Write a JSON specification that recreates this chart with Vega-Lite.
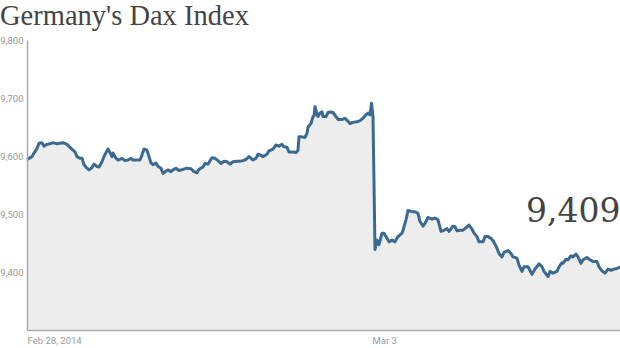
{
  "$schema": "https://vega.github.io/schema/vega-lite/v6.json",
  "width": 593,
  "height": 290,
  "autosize": {"type": "none"},
  "padding": {"left": 27, "top": 40, "right": 0, "bottom": 18},
  "background": "white",
  "config": {"view": {"stroke": null}},
  "title": {
    "text": "Germany's Dax Index",
    "anchor": "start",
    "frame": "group",
    "dx": -27,
    "offset": 5,
    "font": "Liberation Serif",
    "fontSize": 28.5,
    "fontWeight": "normal",
    "color": "#444444"
  },
  "datasets": {
    "dax": [
      {"t": 0, "v": 9594}, {"t": 1, "v": 9595}, {"t": 5, "v": 9599}, {"t": 7, "v": 9605}, {"t": 10, "v": 9613},
      {"t": 12, "v": 9622}, {"t": 15, "v": 9623}, {"t": 17, "v": 9617}, {"t": 20, "v": 9620}, {"t": 23, "v": 9621},
      {"t": 26, "v": 9623}, {"t": 30, "v": 9621}, {"t": 33, "v": 9622}, {"t": 36, "v": 9623}, {"t": 40, "v": 9620},
      {"t": 43, "v": 9615}, {"t": 46, "v": 9610}, {"t": 48, "v": 9607}, {"t": 50, "v": 9599}, {"t": 53, "v": 9596},
      {"t": 55, "v": 9596}, {"t": 57, "v": 9585}, {"t": 60, "v": 9579}, {"t": 62, "v": 9576}, {"t": 65, "v": 9580},
      {"t": 67, "v": 9586}, {"t": 70, "v": 9582}, {"t": 72, "v": 9581}, {"t": 75, "v": 9590}, {"t": 77, "v": 9599},
      {"t": 80, "v": 9609}, {"t": 81, "v": 9612}, {"t": 83, "v": 9606}, {"t": 85, "v": 9599}, {"t": 86, "v": 9605},
      {"t": 89, "v": 9596}, {"t": 91, "v": 9593}, {"t": 95, "v": 9596}, {"t": 98, "v": 9592}, {"t": 101, "v": 9593},
      {"t": 104, "v": 9596}, {"t": 106, "v": 9593}, {"t": 110, "v": 9593}, {"t": 113, "v": 9593}, {"t": 115, "v": 9602},
      {"t": 117, "v": 9612}, {"t": 120, "v": 9610}, {"t": 122, "v": 9599}, {"t": 124, "v": 9588}, {"t": 126, "v": 9585},
      {"t": 129, "v": 9588}, {"t": 131, "v": 9582}, {"t": 134, "v": 9579}, {"t": 136, "v": 9570}, {"t": 139, "v": 9574},
      {"t": 141, "v": 9576}, {"t": 144, "v": 9573}, {"t": 146, "v": 9576}, {"t": 149, "v": 9579}, {"t": 152, "v": 9575},
      {"t": 156, "v": 9577}, {"t": 160, "v": 9579}, {"t": 164, "v": 9578}, {"t": 167, "v": 9573}, {"t": 170, "v": 9571},
      {"t": 172, "v": 9577}, {"t": 176, "v": 9581}, {"t": 178, "v": 9587}, {"t": 181, "v": 9586}, {"t": 185, "v": 9597},
      {"t": 188, "v": 9596}, {"t": 191, "v": 9592}, {"t": 194, "v": 9587}, {"t": 197, "v": 9591}, {"t": 200, "v": 9590},
      {"t": 203, "v": 9586}, {"t": 206, "v": 9590}, {"t": 210, "v": 9591}, {"t": 213, "v": 9591}, {"t": 216, "v": 9592},
      {"t": 219, "v": 9594}, {"t": 222, "v": 9599}, {"t": 226, "v": 9593}, {"t": 229, "v": 9596}, {"t": 231, "v": 9603},
      {"t": 234, "v": 9601}, {"t": 236, "v": 9599}, {"t": 240, "v": 9603}, {"t": 242, "v": 9609}, {"t": 246, "v": 9612},
      {"t": 249, "v": 9619}, {"t": 252, "v": 9617}, {"t": 255, "v": 9620}, {"t": 257, "v": 9616}, {"t": 260, "v": 9615},
      {"t": 262, "v": 9607}, {"t": 266, "v": 9607}, {"t": 269, "v": 9606}, {"t": 271, "v": 9610}, {"t": 272, "v": 9633},
      {"t": 275, "v": 9633}, {"t": 278, "v": 9632}, {"t": 280, "v": 9639}, {"t": 281, "v": 9650}, {"t": 284, "v": 9656},
      {"t": 286, "v": 9668}, {"t": 287, "v": 9669}, {"t": 288, "v": 9685}, {"t": 290, "v": 9672}, {"t": 291, "v": 9668},
      {"t": 293, "v": 9674}, {"t": 295, "v": 9676}, {"t": 296, "v": 9668}, {"t": 299, "v": 9668}, {"t": 301, "v": 9675},
      {"t": 303, "v": 9676}, {"t": 306, "v": 9675}, {"t": 309, "v": 9668}, {"t": 311, "v": 9663}, {"t": 315, "v": 9663},
      {"t": 318, "v": 9665}, {"t": 321, "v": 9660}, {"t": 323, "v": 9656}, {"t": 326, "v": 9658}, {"t": 330, "v": 9659},
      {"t": 333, "v": 9661}, {"t": 336, "v": 9665}, {"t": 339, "v": 9671}, {"t": 341, "v": 9674}, {"t": 343, "v": 9671},
      {"t": 344.5, "v": 9691}, {"t": 346, "v": 9668},
      {"t": 348, "v": 9439}, {"t": 350, "v": 9455}, {"t": 352, "v": 9447}, {"t": 355, "v": 9467}, {"t": 357, "v": 9467},
      {"t": 360, "v": 9458}, {"t": 362, "v": 9452}, {"t": 365, "v": 9455}, {"t": 368, "v": 9452}, {"t": 371, "v": 9461},
      {"t": 375, "v": 9467}, {"t": 376, "v": 9472}, {"t": 379, "v": 9490}, {"t": 381, "v": 9506}, {"t": 385, "v": 9504},
      {"t": 388, "v": 9504}, {"t": 391, "v": 9501}, {"t": 393, "v": 9487}, {"t": 396, "v": 9479}, {"t": 398, "v": 9484},
      {"t": 401, "v": 9494}, {"t": 405, "v": 9491}, {"t": 408, "v": 9493}, {"t": 411, "v": 9490}, {"t": 414, "v": 9470},
      {"t": 416, "v": 9471}, {"t": 420, "v": 9475}, {"t": 422, "v": 9470}, {"t": 426, "v": 9479}, {"t": 428, "v": 9478},
      {"t": 430, "v": 9471}, {"t": 433, "v": 9472}, {"t": 436, "v": 9472}, {"t": 440, "v": 9478}, {"t": 442, "v": 9481},
      {"t": 445, "v": 9474}, {"t": 447, "v": 9467}, {"t": 450, "v": 9461}, {"t": 452, "v": 9452}, {"t": 456, "v": 9452},
      {"t": 458, "v": 9461}, {"t": 461, "v": 9461}, {"t": 464, "v": 9458}, {"t": 466, "v": 9454}, {"t": 469, "v": 9445},
      {"t": 472, "v": 9432}, {"t": 475, "v": 9426}, {"t": 477, "v": 9434}, {"t": 481, "v": 9437}, {"t": 484, "v": 9432},
      {"t": 486, "v": 9426}, {"t": 490, "v": 9424}, {"t": 492, "v": 9412}, {"t": 495, "v": 9401}, {"t": 497, "v": 9409},
      {"t": 501, "v": 9409}, {"t": 505, "v": 9396}, {"t": 508, "v": 9405}, {"t": 512, "v": 9414}, {"t": 515, "v": 9409},
      {"t": 517, "v": 9401}, {"t": 521, "v": 9392}, {"t": 523, "v": 9401}, {"t": 526, "v": 9398}, {"t": 530, "v": 9401},
      {"t": 532, "v": 9409}, {"t": 535, "v": 9416}, {"t": 536, "v": 9415}, {"t": 539, "v": 9422}, {"t": 541, "v": 9421},
      {"t": 544, "v": 9428}, {"t": 546, "v": 9426}, {"t": 549, "v": 9431}, {"t": 551, "v": 9426}, {"t": 554, "v": 9415},
      {"t": 556, "v": 9421}, {"t": 560, "v": 9425}, {"t": 563, "v": 9421}, {"t": 566, "v": 9418}, {"t": 570, "v": 9418},
      {"t": 572, "v": 9409}, {"t": 575, "v": 9402}, {"t": 578, "v": 9398}, {"t": 581, "v": 9405}, {"t": 584, "v": 9403},
      {"t": 587, "v": 9405}, {"t": 590, "v": 9406}, {"t": 593, "v": 9409}
    ],
    "last": [{"t": 593.5, "v": 9486, "label": "9,409"}]
  },
  "encoding": {
    "x": {
      "field": "t",
      "type": "quantitative",
      "scale": {"domain": [0, 593], "nice": false, "zero": false},
      "axis": {
        "title": null,
        "values": [0, 345],
        "labelExpr": "datum.value == 0 ? 'Feb 28, 2014' : 'Mar 3'",
        "labelAlign": "left",
        "labelFlush": false,
        "ticks": false,
        "grid": false,
        "labelPadding": 5,
        "labelFont": "Roboto",
        "labelFontSize": 9.5,
        "labelColor": "#9a9a9a",
        "domainColor": "#aaaaaa",
        "domainWidth": 1.5,
        "zindex": 1
      }
    },
    "y": {
      "field": "v",
      "type": "quantitative",
      "scale": {"domain": [9300, 9800], "nice": false, "zero": false},
      "axis": {
        "title": null,
        "values": [9400, 9500, 9600, 9700, 9800],
        "labelExpr": "format(datum.value, ',d')",
        "ticks": false,
        "grid": false,
        "labelPadding": 4,
        "labelFont": "Roboto",
        "labelFontSize": 9.5,
        "labelColor": "#9a9a9a",
        "domainColor": "#aaaaaa",
        "domainWidth": 1.5,
        "zindex": 1
      }
    }
  },
  "layer": [
    {
      "data": {"name": "dax"},
      "mark": {"type": "area", "color": "#ededed"},
      "encoding": {"y2": {"datum": 9300}}
    },
    {
      "data": {"name": "dax"},
      "mark": {"type": "line", "color": "#3c6990", "strokeWidth": 3, "strokeJoin": "round"}
    },
    {
      "data": {"name": "last"},
      "mark": {"type": "text", "align": "right", "baseline": "alphabetic", "font": "DejaVu Serif", "fontSize": 33, "color": "#444444"},
      "encoding": {"text": {"field": "label"}}
    }
  ]
}
